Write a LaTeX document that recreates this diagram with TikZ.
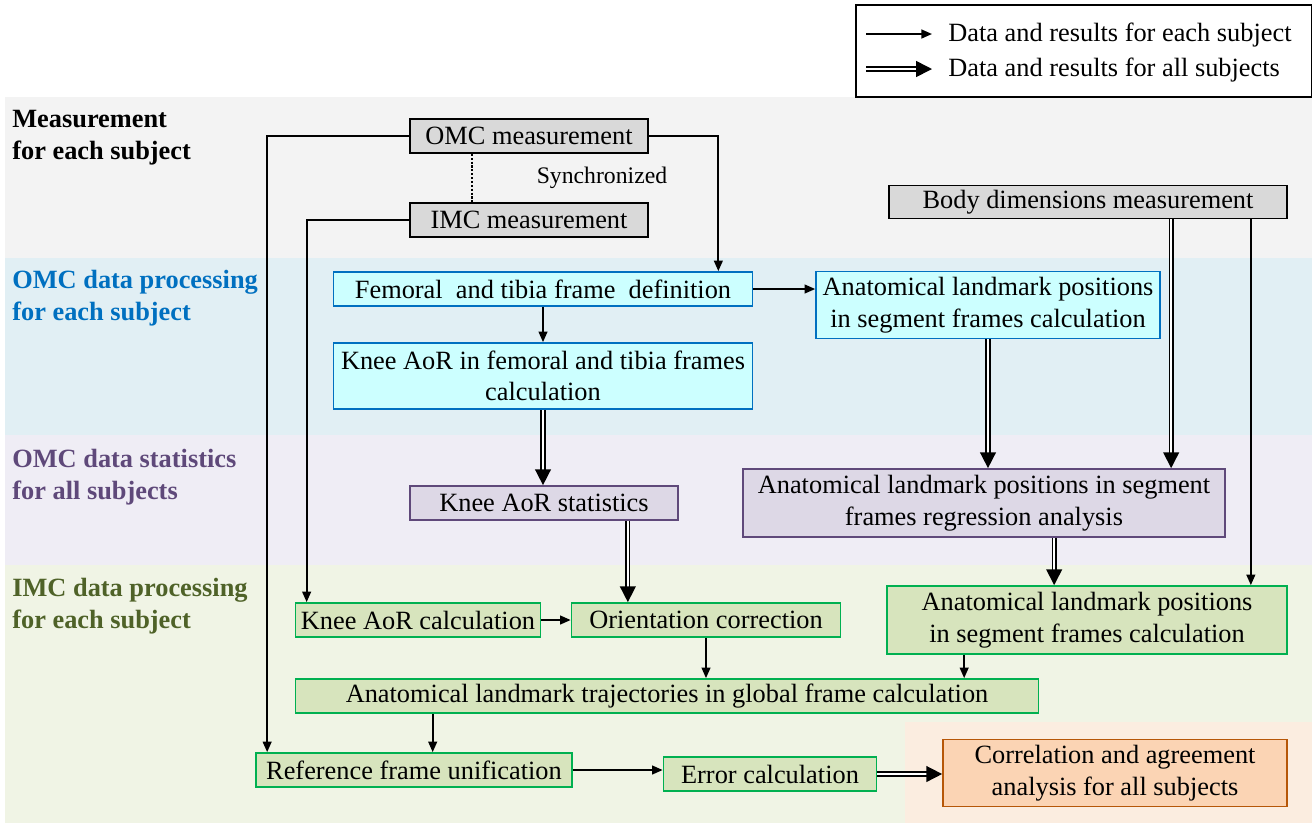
\documentclass[tikz,border=0pt]{standalone}
\usepackage{fontspec}
\setmainfont{Liberation Serif}
\usetikzlibrary{arrows.meta,calc}

\definecolor{bandgray}{HTML}{F3F3F3}
\definecolor{bandblue}{HTML}{E1EFF4}
\definecolor{bandlila}{HTML}{EFEDF5}
\definecolor{bandgreen}{HTML}{F0F4E5}
\definecolor{bandorange}{HTML}{FBEDE0}
\definecolor{boxgray}{HTML}{D9D9D9}
\definecolor{boxcyan}{HTML}{CCFFFF}
\definecolor{linecyan}{HTML}{0070C0}
\definecolor{boxlila}{HTML}{DDD8E6}
\definecolor{linelila}{HTML}{5F497A}
\definecolor{boxgreen}{HTML}{D7E4BD}
\definecolor{linegreen}{HTML}{00B050}
\definecolor{boxorange}{HTML}{FBD4B4}
\definecolor{lineorange}{HTML}{B65708}
\definecolor{txtblue}{HTML}{0070C0}
\definecolor{txtlila}{HTML}{5F497A}
\definecolor{txtgreen}{HTML}{4F6228}

\tikzset{
  box/.style={draw, line width=1pt, inner sep=0pt, align=center,
    font=\fontsize{15}{18}\selectfont},
  measbox/.style={box, fill=boxgray, draw=black},
  omcbox/.style={box, fill=boxcyan, draw=linecyan},
  statbox/.style={box, fill=boxlila, draw=linelila},
  imcbox/.style={box, fill=boxgreen, draw=linegreen},
  corrbox/.style={box, fill=boxorange, draw=lineorange},
  bandlabel/.style={anchor=north west, align=left, inner sep=0pt,
    font=\fontsize{15}{18}\selectfont\bfseries},
  arr/.style={line width=1pt, -{Triangle[length=6pt,width=5pt]}},
  darr/.style={double, double distance=1.2pt, line width=0.9pt,
    -{Triangle[length=9pt,width=9pt]}}
}

\begin{document}
\begin{tikzpicture}[x=0.02cm,y=-0.02cm]
  \useasboundingbox (0,0) rectangle (1312,823);
  % bands
  \fill[bandgray] (5,97) rectangle (1312,258);
  \fill[bandblue] (5,258) rectangle (1312,435);
  \fill[bandlila] (5,435) rectangle (1312,565);
  \fill[bandgreen] (5,565) rectangle (1312,823);
  \fill[bandorange] (905,722) rectangle (1312,823);

  % band labels
  \node[bandlabel] (lab1) at (12,110) {Measurement\\for each subject};
  \node[bandlabel, text=txtblue] (lab2) at (12,270) {OMC data processing\\for each subject};
  \node[bandlabel, text=txtlila] (lab3) at (12,449) {OMC data statistics\\for all subjects};
  \node[bandlabel, text=txtgreen] (lab4) at (12,578) {IMC data processing\\for each subject};

  % legend
  \draw[line width=0.8pt] (856,5) rectangle (1312,97);
  \coordinate (la) at (866,34);
  \coordinate (lb) at (932,34);
  \coordinate (lc) at (866,69);
  \coordinate (ld) at (932,69);
  \draw[arr] (la) -- (lb);
  \draw[darr] (lc) -- (ld);
  \node[anchor=west, inner sep=0pt, font=\fontsize{15}{18}\selectfont] (leg1) at (948,35) {Data and results for each subject};
  \node[anchor=west, inner sep=0pt, font=\fontsize{15}{18}\selectfont] (leg2) at (948,70) {Data and results for all subjects};

  % measurement
  \node[measbox, minimum width=4.76cm, minimum height=0.68cm] (omc) at (529,136) {OMC measurement};
  \node[measbox, minimum width=4.76cm, minimum height=0.68cm] (imc) at (529,220) {IMC measurement};
  \node[measbox, minimum width=7.96cm, minimum height=0.66cm] (body) at (1088,202) {Body dimensions measurement};
  \node[inner sep=0pt, font=\fontsize{13.5}{16}\selectfont] (sync) at (602,178) {Synchronized};

  % OMC processing
  \node[omcbox, minimum width=8.38cm, minimum height=0.68cm] (fem) at (543,289) {Femoral\ \ and tibia frame\ \ definition};
  \node[omcbox, minimum width=6.88cm, minimum height=1.34cm] (alblue) at (988,305) {Anatomical landmark positions\\in segment frames calculation};
  \node[omcbox, minimum width=8.38cm, minimum height=1.32cm] (kaor) at (543,376) {Knee AoR in femoral and tibia frames\\calculation};

  % OMC statistics
  \node[statbox, minimum width=5.36cm, minimum height=0.68cm] (kstat) at (544,503) {Knee AoR statistics};
  \node[statbox, minimum width=9.64cm, minimum height=1.36cm] (reg) at (984,503) {Anatomical landmark positions in segment\\frames regression analysis};

  % IMC processing
  \node[imcbox, minimum width=4.9cm, minimum height=0.68cm] (kcalc) at (418,620) {Knee AoR calculation};
  \node[imcbox, minimum width=5.38cm, minimum height=0.68cm] (orient) at (706,620) {Orientation correction};
  \node[imcbox, minimum width=8cm, minimum height=1.36cm] (algreen) at (1087,620) {Anatomical landmark positions\\in segment frames calculation};
  \node[imcbox, minimum width=14.86cm, minimum height=0.68cm] (traj) at (667,696) {Anatomical landmark trajectories in global frame calculation};
  \node[imcbox, minimum width=6.32cm, minimum height=0.68cm] (ref) at (414,770) {Reference frame unification};
  \node[imcbox, minimum width=4.26cm, minimum height=0.68cm] (err) at (770,774) {Error calculation};
  \node[corrbox, minimum width=6.88cm, minimum height=1.34cm] (corr) at (1115,773) {Correlation and agreement\\analysis for all subjects};

  % connectors
  \draw[line width=1.2pt, densely dotted] ($(omc.south west)+(63,0)$) coordinate (s1) -- (s1 |- imc.north);
  \draw[arr] (omc.west) -| ($(ref.north west)+(12,0)$);
  \draw[arr] (imc.west) -| ($(kcalc.north west)+(12,0)$);
  \draw[arr] (omc.east) -| ($(fem.north east)+(-35,0)$);
  \draw[arr] (fem.east) -- (fem.east -| alblue.west);
  \draw[arr] (fem.south) -- (kaor.north);
  \draw[darr] (kaor.south) -- (kaor.south |- kstat.north);
  \draw[darr] (alblue.south) -- (alblue.south |- reg.north);
  \draw[darr] ($(body.south west)+(283,0)$) coordinate (b1) -- (b1 |- reg.north);
  \draw[arr] ($(body.south east)+(-37,0)$) coordinate (b2) -- (b2 |- algreen.north);
  \draw[darr] ($(reg.south west)+(312,0)$) coordinate (r1) -- (r1 |- algreen.north);
  \draw[darr] ($(kstat.south east)+(-51,0)$) coordinate (k1) -- (k1 |- orient.north);
  \draw[arr] (kcalc.east) -- (orient.west);
  \draw[arr] (orient.south) -- (orient.south |- traj.north);
  \draw[arr] ($(algreen.south west)+(78,0)$) coordinate (g1) -- (g1 |- traj.north);
  \draw[arr] ($(traj.south west)+(138,0)$) coordinate (t1) -- (t1 |- ref.north);
  \draw[arr] (ref.east) -- (ref.east -| err.west);
  \draw[darr] (err.east) -- (err.east -| corr.west);
\end{tikzpicture}
\end{document}
